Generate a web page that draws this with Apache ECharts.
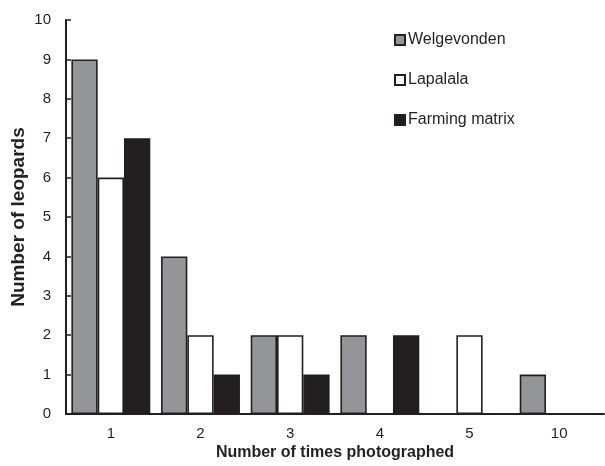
<!DOCTYPE html>
<html><head><meta charset="utf-8">
<script src="https://cdn.jsdelivr.net/npm/echarts@6/dist/echarts.min.js"></script>
<style>html,body{margin:0;padding:0;background:#fff}#c{width:605px;height:466px}</style>
</head><body><div id="c"></div>
<script>
const categories = ['1','2','3','4','5','10'];
const welgevonden = [9,4,2,2,0,1];
const lapalala = [6,2,2,0,2,0];
const farming = [7,1,1,2,0,0];
const yTicks = [0,1,2,3,4,5,6,7,8,9,10];

const ink = '#231f20';
const font = 'Liberation Sans';
const chart = echarts.init(document.getElementById('c'));
function s(name, data, color){
  return {name, type:'bar', data:data.map(v=>v===0?'-':v), barGap:'0%', barCategoryGap:'12%',
    itemStyle:{color, borderColor:ink, borderWidth:1.6}, animation:false};
}
chart.setOption({
  animation:false,
  textStyle:{fontFamily:font},
  grid:{left:66, right:1, top:20, bottom:52, containLabel:false, outerBoundsMode:'none'},
  legend:{orient:'vertical', left:389, top:27, itemWidth:10, itemHeight:10, itemGap:24,
    icon:'rect', textStyle:{fontSize:16, color:ink, fontFamily:font, padding:[0,0,0,-2]},
    data:['Welgevonden','Lapalala','Farming matrix']},
  xAxis:{type:'category', data:categories,
    name:'Number of times photographed', nameLocation:'middle', nameGap:31, nameMoveOverlap:false,
    nameTextStyle:{fontSize:16, fontWeight:'bold', color:ink, fontFamily:font},
    axisLine:{lineStyle:{color:ink, width:2}},
    axisTick:{inside:true, length:4, lineStyle:{color:ink, width:1.5}},
    axisLabel:{fontSize:15, color:ink, margin:12, fontFamily:font}},
  yAxis:{type:'value', min:0, max:10, interval:1,
    name:'Number of leopards', nameLocation:'middle', nameGap:38, nameMoveOverlap:false,
    nameTextStyle:{fontSize:19, fontWeight:'bold', color:ink, fontFamily:font},
    axisLine:{show:true, lineStyle:{color:ink, width:2}},
    axisTick:{show:true, inside:true, length:5, lineStyle:{color:ink, width:1.5}},
    splitLine:{show:false},
    axisLabel:{fontSize:15, color:ink, margin:15, fontFamily:font,
      formatter:v=>yTicks.includes(v)?String(v):''}},
  series:[s('Welgevonden', welgevonden, '#939598'), s('Lapalala', lapalala, '#ffffff'), s('Farming matrix', farming, ink)]
});
</script></body></html>
